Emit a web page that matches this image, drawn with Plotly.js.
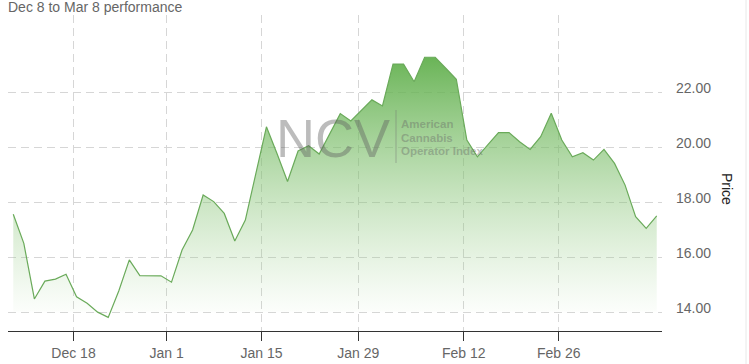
<!DOCTYPE html>
<html>
<head>
<meta charset="utf-8">
<script src="https://cdn.plot.ly/plotly-3.0.1.min.js"></script>
<style>
  html, body { margin: 0; padding: 0; background: #ffffff; }
  #chart { width: 749px; height: 364px; }
</style>
</head>
<body>
<div id="chart"></div>
<script>
// ---- Data (trading days, Dec 8 2017 - Mar 9 2018) ----
const dates = [
  '2017-12-08','2017-12-11','2017-12-12','2017-12-13','2017-12-14','2017-12-15',
  '2017-12-18','2017-12-19','2017-12-20','2017-12-21','2017-12-22',
  '2017-12-26','2017-12-27','2017-12-28','2017-12-29',
  '2018-01-02','2018-01-03','2018-01-04','2018-01-05',
  '2018-01-08','2018-01-09','2018-01-10','2018-01-11','2018-01-12',
  '2018-01-16','2018-01-17','2018-01-18','2018-01-19',
  '2018-01-22','2018-01-23','2018-01-24','2018-01-25','2018-01-26',
  '2018-01-29','2018-01-30','2018-01-31','2018-02-01','2018-02-02',
  '2018-02-05','2018-02-06','2018-02-07','2018-02-08','2018-02-09',
  '2018-02-12','2018-02-13','2018-02-14','2018-02-15','2018-02-16',
  '2018-02-20','2018-02-21','2018-02-22','2018-02-23',
  '2018-02-26','2018-02-27','2018-02-28','2018-03-01','2018-03-02',
  '2018-03-05','2018-03-06','2018-03-07','2018-03-08','2018-03-09'
];
const prices = [
  17.59, 16.53, 14.51, 15.16, 15.23, 15.41,
  14.59, 14.35, 14.03, 13.84, 14.80,
  15.93, 15.36, 15.36, 15.35,
  15.12, 16.29, 17.02, 18.29,
  18.05, 17.62, 16.62, 17.38, 19.08,
  20.77, 19.80, 18.78, 19.89,
  20.08, 19.78, 20.52, 21.25, 20.98,
  21.38, 21.75, 21.53, 23.05, 23.05,
  22.41, 23.30, 23.30, 22.90, 22.50,
  20.29, 19.68, 20.12, 20.56, 20.56,
  20.23, 19.95, 20.41, 21.26,
  20.29, 19.68, 19.83, 19.56, 19.95,
  19.44, 18.65, 17.50, 17.08, 17.53
];
const tickDates  = ['2017-12-18','2018-01-01','2018-01-15','2018-01-29','2018-02-12','2018-02-26'];
const tickLabels = ['Dec 18','Jan 1','Jan 15','Jan 29','Feb 12','Feb 26'];
const priceTicks = [14, 16, 18, 20, 22];
const titleText = 'Dec 8 to Mar 8 performance';
const yTitle = 'Price';

// ---- Ordinal x axis: one slot per trading day ----
const idx = dates.map((d, i) => i);
const closeTime = d => Date.parse(d + 'T21:00:00Z');
function ordinalPos(day) {
  const t = Date.parse(day + 'T00:00:00Z');
  for (let i = 1; i < dates.length; i++) {
    const a = closeTime(dates[i - 1]), b = closeTime(dates[i]);
    if (t >= a && t <= b) return (i - 1) + (t - a) / (b - a);
  }
  return 0;
}
const tickPos = tickDates.map(ordinalPos);

// ---- geometry helpers (pixels -> paper) ----
const L = 8, R = 662, T = 15, B = 331;
const px = X => (X - L) / (R - L);
const py = Y => (B - Y) / (B - T);

const FONT = 'Liberation Sans, Arial, sans-serif';
const wmGrey = 'rgba(95,95,95,0.42)';
const wmGreyText = 'rgba(100,100,100,0.40)';

const trace = {
  x: idx, y: prices, type: 'scatter', mode: 'lines',
  line: { color: '#6aaa5a', width: 1.2 },
  fill: 'tozeroy',
  fillgradient: {
    type: 'vertical', start: 13.4, stop: 23.3,
    colorscale: [[0, 'rgba(255,255,255,0)'], [0.055, 'rgba(255,255,255,0)'],
                 [0.07, 'rgba(160,210,145,0.04)'], [1, 'rgba(98,176,78,0.95)']]
  },
  hoverinfo: 'skip'
};

const layout = {
  width: 749, height: 364,
  margin: { l: L, r: 749 - R, t: T, b: 364 - B, pad: 0 },
  paper_bgcolor: '#ffffff', plot_bgcolor: '#ffffff',
  showlegend: false,
  font: { family: FONT, size: 14, color: '#666666' },
  title: {
    text: titleText, font: { family: FONT, size: 14, color: '#666666' },
    xref: 'container', yref: 'container', x: 8 / 749, xanchor: 'left',
    y: 1 - 7.5 / 364, yanchor: 'middle', pad: { t: 0, b: 0, l: 0, r: 0 }
  },
  xaxis: {
    type: 'linear', range: [-0.5, dates.length - 0.5],
    tickmode: 'array', tickvals: tickPos, ticktext: tickLabels,
    showgrid: true, gridcolor: '#d6d6d6', gridwidth: 1, griddash: '8px,5px',
    showline: true, linecolor: '#333333', linewidth: 1,
    ticks: 'outside', ticklen: 9, tickcolor: '#333333', tickwidth: 1,
    tickfont: { family: FONT, size: 14, color: '#666666' },
    zeroline: false, fixedrange: true
  },
  yaxis: {
    side: 'right', range: [13.345, 24.836],
    tickmode: 'array', tickvals: priceTicks, ticktext: priceTicks.map(v => v.toFixed(2)),
    showgrid: true, gridcolor: '#d6d6d6', gridwidth: 1, griddash: '8px,5px',
    showline: false, zeroline: false, ticks: '',
    ticklabelstandoff: 13, ticklabelshift: -5,
    tickfont: { family: FONT, size: 14, color: '#666666' },
    fixedrange: true
  },
  shapes: [
    { type: 'line', xref: 'paper', yref: 'paper', x0: px(396), x1: px(396), y0: py(110), y1: py(163),
      line: { color: 'rgba(110,110,110,0.45)', width: 1 } },
    { type: 'line', xref: 'paper', yref: 'paper', x0: px(746), x1: px(746), y0: py(0), y1: py(364),
      line: { color: '#e8e8e8', width: 1 } }
  ],
  annotations: [
    { text: 'NCV', xref: 'paper', yref: 'paper', x: px(274), y: py(138), xanchor: 'left', yanchor: 'middle',
      showarrow: false, font: { family: FONT, size: 54, color: wmGrey } },
    { text: '<b>American</b>', xref: 'paper', yref: 'paper', x: px(399), y: py(124), xanchor: 'left', yanchor: 'middle',
      showarrow: false, font: { family: FONT, size: 11.5, color: wmGreyText } },
    { text: '<b>Cannabis</b>', xref: 'paper', yref: 'paper', x: px(399), y: py(137.5), xanchor: 'left', yanchor: 'middle',
      showarrow: false, font: { family: FONT, size: 11.5, color: wmGreyText } },
    { text: '<b>Operator Index</b>', xref: 'paper', yref: 'paper', x: px(399), y: py(151), xanchor: 'left', yanchor: 'middle',
      showarrow: false, font: { family: FONT, size: 11.5, color: wmGreyText } },
    { text: yTitle, xref: 'paper', yref: 'paper', x: px(727), y: py(189), xanchor: 'center', yanchor: 'middle',
      textangle: 90, showarrow: false, font: { family: FONT, size: 14, color: '#222222' } }
  ]
};

Plotly.newPlot('chart', [trace], layout, { displayModeBar: false, staticPlot: true });
</script>
</body>
</html>
